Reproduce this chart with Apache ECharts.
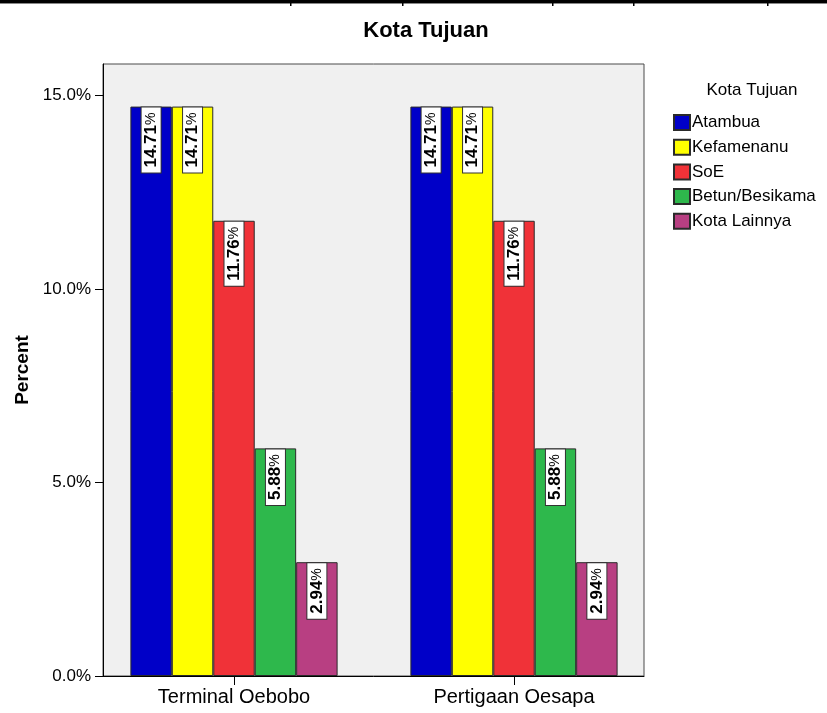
<!DOCTYPE html>
<html>
<head>
<meta charset="utf-8">
<script src="https://cdn.jsdelivr.net/npm/echarts@6/dist/echarts.min.js"></script>
<style>
  html, body { margin: 0; padding: 0; background: #ffffff; }
  #chart { width: 827px; height: 713px; }
</style>
</head>
<body>
<div id="chart"></div>
<script>
// Survey results: destination city share per pick-up location
const categories = ['Terminal Oebobo', 'Pertigaan Oesapa'];
const seriesNames = ['Atambua', 'Kefamenanu', 'SoE', 'Betun/Besikama', 'Kota Lainnya'];
const atambua = [14.71, 14.71];
const kefamenanu = [14.71, 14.71];
const soe = [11.76, 11.76];
const betun = [5.88, 5.88];
const kotaLainnya = [2.94, 2.94];
const yTicks = [0, 5, 10, 15];
const colors = ['#0000c8', '#ffff00', '#f03238', '#2eb84c', '#b83f82'];

const FONT = '"Liberation Sans", Arial, sans-serif';
const seriesValues = [atambua, kefamenanu, soe, betun, kotaLainnya];
const yMax = 15.81;

const series = seriesNames.map((name, i) => ({
  name: name,
  type: 'bar',
  xAxisIndex: 1,
  yAxisIndex: 1,
  data: seriesValues[i],
  barGap: '0%',
  barCategoryGap: '26%',
  itemStyle: { color: colors[i], borderColor: '#2a2a2a', borderWidth: 1 },
  label: {
    show: true,
    position: 'insideTop',
    distance: 1,
    rotate: 90,
    align: 'right',
    verticalAlign: 'middle',
    backgroundColor: '#ffffff',
    borderColor: '#333333',
    borderWidth: 1,
    padding: [1, 5, 1, 5],
    formatter: p => '{v|' + p.value.toFixed(2) + '}{p|%}',
    rich: {
      v: { fontFamily: FONT, fontSize: 17, fontWeight: 'bold', color: '#000', lineHeight: 17 },
      p: { fontFamily: FONT, fontSize: 14, color: '#000', lineHeight: 17 }
    }
  },
  emphasis: { disabled: true }
}));

const chart = echarts.init(document.getElementById('chart'), null, { renderer: 'canvas' });
chart.setOption({
  animation: false,
  backgroundColor: '#ffffff',
  title: [
    {
      text: 'Kota Tujuan',
      left: 421, top: 15, textAlign: 'center',
      textStyle: { fontFamily: FONT, fontSize: 22, fontWeight: 'bold', color: '#000' }
    },
    {
      text: 'Kota Tujuan',
      left: 747, top: 77, textAlign: 'center',
      textStyle: { fontFamily: FONT, fontSize: 17, fontWeight: 'normal', color: '#000' }
    }
  ],
  legend: {
    orient: 'vertical',
    left: 668, top: 109,
    itemWidth: 16, itemHeight: 15, itemGap: 7.7,
    icon: 'rect',
    data: seriesNames,
    selectedMode: false,
    textStyle: { fontFamily: FONT, fontSize: 17, color: '#000', lineHeight: 17, padding: [0, 0, 0, -3] }
  },
  grid: [
    // plot frame with grey background
    { left: 103, top: 64, width: 541, height: 612, show: true, backgroundColor: '#f0f0f0', borderColor: '#4a4a4a', borderWidth: 1 },
    // category bands for the clustered bars
    { left: 94, top: 64, width: 560, height: 612, show: false }
  ],
  xAxis: [
    {
      gridIndex: 0, type: 'value', min: 0, max: 1,
      axisLine: { show: true, lineStyle: { color: '#000', width: 1 } },
      axisTick: { show: false }, axisLabel: { show: false }, splitLine: { show: false }
    },
    {
      gridIndex: 1, type: 'category', data: categories,
      axisLine: { show: false },
      axisTick: { show: true, alignWithLabel: true, length: 9, lineStyle: { color: '#000' } },
      axisLabel: { margin: 11, fontFamily: FONT, fontSize: 20, color: '#000' }
    }
  ],
  yAxis: [
    {
      gridIndex: 0, type: 'value', min: 0, max: yMax,
      name: 'Percent', nameLocation: 'middle', nameRotate: 90, nameGap: 68,
      nameTextStyle: { fontFamily: FONT, fontSize: 19, fontWeight: 'bold', color: '#000' },
      axisLine: { show: true, lineStyle: { color: '#000', width: 1 } },
      axisTick: { show: true, length: 8, customValues: yTicks, lineStyle: { color: '#000' } },
      axisLabel: {
        customValues: yTicks, margin: 12,
        fontFamily: FONT, fontSize: 17, color: '#000',
        formatter: v => v.toFixed(1) + '%'
      },
      splitLine: { show: false }
    },
    {
      gridIndex: 1, type: 'value', min: 0, max: yMax, show: false
    }
  ],
  graphic: [
    // rule of the table above the chart
    { type: 'rect', shape: { x: 0, y: 0, width: 827, height: 3 }, style: { fill: '#000' }, silent: true },
    { type: 'rect', shape: { x: 0, y: 3, width: 827, height: 1 }, style: { fill: '#888' }, silent: true },
    ...[290, 402, 552, 633, 767].map(x => ({
      type: 'rect', shape: { x: x, y: 0, width: 1.5, height: 6 }, style: { fill: '#000' }, silent: true
    }))
  ],
  series: series
});
</script>
</body>
</html>
